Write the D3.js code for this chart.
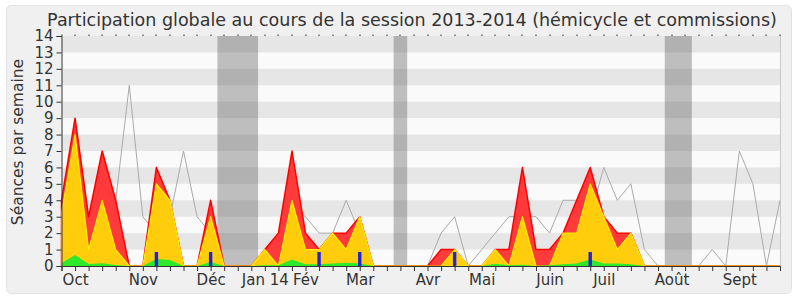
<!DOCTYPE html>
<html>
<head>
<meta charset="utf-8">
<script src="https://cdn.jsdelivr.net/npm/d3@7"></script>
<style>
  body { margin: 0; background: #fff; }
  svg { display: block; font-family: 'DejaVu Sans', sans-serif; }
</style>
</head>
<body>
<div id="chart"></div>
<script>
// Participation globale, session 2013-2014 — one value per week (54 weeks)

const presences = [4, 9, 3, 7, 4, 0, 0, 6, 4, 0, 0, 4, 0, 0, 0, 1, 2, 7, 2, 1,
  2, 2, 3, 0, 0, 0, 0, 0, 1, 1, 0, 0, 1, 1, 6, 1, 1, 2, 4, 6,
  3, 2, 2, 0, 0, 0, 0, 0, 0, 0, 0, 0, 0, 0];
const participations = [3.2, 8, 1, 4, 1, 0, 0, 5, 4, 0, 0, 3, 0, 0, 0, 1, 0, 4, 1, 1,
  2, 1, 3, 0, 0, 0, 0, 0, 0, 1, 0, 0, 1, 0, 3, 0, 0, 2, 2, 5,
  3, 1, 2, 0, 0, 0, 0, 0, 0, 0, 0, 0, 0, 0];
const interventions = [0.18, 0.67, 0.12, 0.16, 0.06, 0, 0, 0.43, 0.37, 0, 0, 0.24, 0, 0, 0, 0.05, 0.05, 0.4, 0.1, 0.1,
  0.15, 0.2, 0.15, 0, 0, 0, 0, 0, 0, 0, 0, 0, 0.14, 0.05, 0.08, 0, 0.05, 0.1, 0.15, 0.4,
  0.15, 0.15, 0.1, 0, 0, 0, 0, 0, 0, 0, 0, 0, 0, 0];
const mediane = [4, 5, 3, 5, 4, 11, 3, 2, 3, 7, 3, 2, 0, 0, 0, 1, 2, 3.5, 3, 2,
  2, 4, 2, 0, 0, 0, 0, 0, 2, 3, 0, 1, 2, 3, 3, 3, 2, 4, 4, 3,
  6, 4, 5, 1, 0, 0, 0, 0, 1, 0, 7, 5, 0, 4];

const questionWeeks = [7, 11, 19, 22, 29, 39];
const questionValues = [0.85, 0.85, 0.85, 0.85, 0.85, 0.85];

const monthLabels = ['Oct', 'Nov', 'Déc', 'Jan 14', 'Fév', 'Mar', 'Avr', 'Mai', 'Juin', 'Juil', 'Août', 'Sept'];
const monthWeeks = [1, 6, 11, 15, 18, 22, 27, 31, 36, 40, 45, 50];

// holiday weeks (first, last)
const vacances = [[12, 14], [25, 25], [45, 46]];

const W = 800, H = 300;
const M = { left: 61.5, right: 780, top: 36, bottom: 266 };
const nWeeks = presences.length;

const x = d3.scaleLinear().domain([0, nWeeks - 1]).range([M.left, M.right]);
const y = d3.scaleLinear().domain([0, 14]).range([M.bottom, M.top]);
const step = x(1) - x(0);

const svg = d3.select('#chart').append('svg')
  .attr('width', W).attr('height', H);

// outer frame
svg.append('rect')
  .attr('x', 6.5).attr('y', 5.5).attr('width', 785).attr('height', 288)
  .attr('rx', 5)
  .attr('fill', '#f0f0f0').attr('stroke', '#e2e2e2');

svg.append('text')
  .attr('x', 412).attr('y', 26)
  .attr('text-anchor', 'middle')
  .attr('font-size', 17.5).attr('fill', '#333')
  .text('Participation globale au cours de la session 2013-2014 (hémicycle et commissions)');

// plot background with stripes
svg.append('rect')
  .attr('x', M.left).attr('y', M.top)
  .attr('width', M.right - M.left).attr('height', M.bottom - M.top)
  .attr('fill', '#fafafa');

svg.append('g').selectAll('rect')
  .data(d3.range(1, 14, 2))
  .enter().append('rect')
  .attr('x', M.left).attr('width', M.right - M.left)
  .attr('y', d => y(d + 1)).attr('height', d => y(d) - y(d + 1))
  .attr('fill', '#e6e6e6');

// holidays
svg.append('g').selectAll('rect')
  .data(vacances)
  .enter().append('rect')
  .attr('x', d => x(d[0]) - step / 2)
  .attr('width', d => (d[1] - d[0] + 1) * step)
  .attr('y', M.top).attr('height', M.bottom - M.top)
  .attr('fill', 'rgb(76,76,76)').attr('fill-opacity', 0.35);

// median line (under the areas)
const line = d3.line().x((d, i) => x(i)).y(d => y(d));
svg.append('path')
  .datum(mediane)
  .attr('d', line)
  .attr('fill', 'none')
  .attr('stroke', '#aaa').attr('stroke-width', 1);

const area = d3.area().x((d, i) => x(i)).y0(y(0)).y1(d => y(d));

svg.append('path')
  .datum(presences)
  .attr('d', area)
  .attr('fill', '#ff2a2a').attr('fill-opacity', 0.92)
  .attr('stroke', '#ff0000').attr('stroke-width', 1.5)
  .attr('stroke-linejoin', 'round');

svg.append('path')
  .datum(participations)
  .attr('d', area)
  .attr('fill', '#ffd20a').attr('fill-opacity', 0.97)
  .attr('stroke', '#ffee00').attr('stroke-width', 1.2)
  .attr('stroke-linejoin', 'round');

svg.append('path')
  .datum(interventions)
  .attr('d', area)
  .attr('fill', '#2ee82a');

svg.append('g').selectAll('rect')
  .data(questionWeeks)
  .enter().append('rect')
  .attr('x', d => x(d) - 1.7).attr('width', 3.4)
  .attr('y', (d, i) => y(questionValues[i]))
  .attr('height', (d, i) => y(0) - y(questionValues[i]))
  .attr('fill', '#2222dd');

// right border
svg.append('line')
  .attr('x1', M.right + 0.5).attr('x2', M.right + 0.5)
  .attr('y1', M.top).attr('y2', M.bottom)
  .attr('stroke', '#c8c8c8');

// top week ticks
svg.append('g').selectAll('rect')
  .data(d3.range(nWeeks))
  .enter().append('rect')
  .attr('x', d => Math.round(x(d)) - 0.5).attr('y', M.top - 1.5)
  .attr('width', 1).attr('height', 1.5)
  .attr('fill', '#222');

// y axis
const yAxis = d3.axisLeft(y).tickValues(d3.range(0, 15)).tickSize(5).tickPadding(3);
svg.append('g')
  .attr('transform', `translate(${M.left},0)`)
  .call(yAxis)
  .call(ax => ax.select('.domain').attr('stroke', '#333'))
  .call(ax => ax.selectAll('.tick line').attr('stroke', '#333'))
  .call(ax => ax.selectAll('.tick text')
    .attr('fill', '#333').attr('font-size', 15)
    .attr('font-family', "'DejaVu Sans', sans-serif"));

// x axis: tick every week, labels at month starts
const xAxis = d3.axisBottom(x).tickValues(d3.range(nWeeks)).tickSize(5)
  .tickFormat(d => {
    const k = monthWeeks.indexOf(d);
    return k >= 0 ? monthLabels[k] : '';
  })
  .tickPadding(3);
svg.append('g')
  .attr('transform', `translate(0,${M.bottom})`)
  .call(xAxis)
  .call(ax => ax.select('.domain').attr('stroke', '#333'))
  .call(ax => ax.selectAll('.tick line').attr('stroke', '#333'))
  .call(ax => ax.selectAll('.tick text')
    .attr('fill', '#333').attr('font-size', 15)
    .attr('font-family', "'DejaVu Sans', sans-serif"));

svg.append('text')
  .attr('transform', 'translate(23,142) rotate(-90)')
  .attr('text-anchor', 'middle')
  .attr('font-size', 15.5).attr('fill', '#333')
  .text('Séances par semaine');
</script>
</body>
</html>
